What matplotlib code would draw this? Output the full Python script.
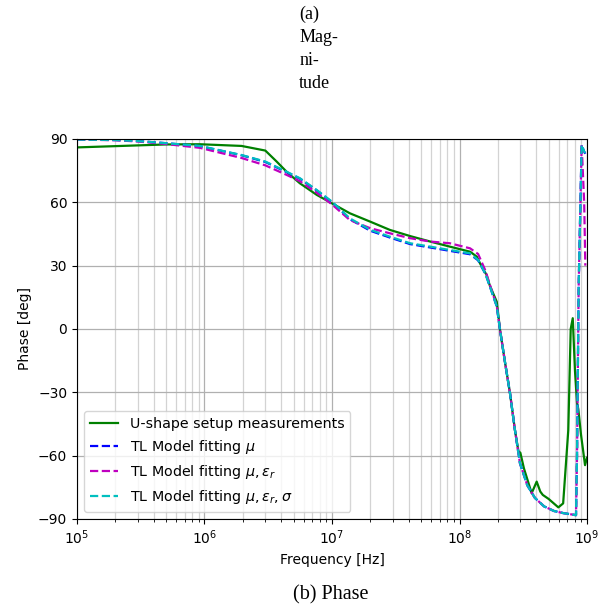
import numpy as np
import matplotlib
matplotlib.use('Agg')
import matplotlib.pyplot as plt

# measured phase (U-shape setup)
f_meas = [1e5, 2e5, 5e5, 9.2e5, 1.95e6, 3e6, 3.68e6, 4.4e6, 5.6e6, 7.6e6, 1e7,
          1.38e7, 2e7, 2.85e7, 4.1e7, 5.9e7, 8.4e7, 1.21e8, 1.37e8, 1.45e8,
          1.63e8, 1.73e8, 1.96e8, 2.08e8, 2.28e8, 2.49e8, 2.72e8, 2.9e8,
          3.0e8, 3.2e8, 3.68e8, 4.03e8, 4.3e8, 4.5e8, 5.0e8, 5.96e8, 6.5e8,
          7.13e8, 7.45e8, 7.73e8, 8.05e8, 8.35e8, 8.55e8, 8.97e8, 9.65e8, 1e9]
ph_meas = [86.0, 86.6, 87.4, 87.5, 86.7, 84.5, 79.3, 74.5, 69.0, 63.5, 59.5,
           54.8, 50.8, 46.9, 44.0, 41.4, 39.0, 36.6, 34.2, 31.0,
           25.6, 20.5, 12.9, -0.5, -16.2, -30.5, -47.8, -58.0,
           -58.6, -66.0, -77.8, -72.3, -77.0, -78.6, -80.5, -84.5, -82.6,
           -48.0, 0.0, 5.1, -20.0, -35.0, -38.0, -50.0, -64.5, -61.0]

# transmission-line model fits
f_mod = [1e5, 2e5, 3e5, 5e5, 9.2e5, 1.95e6, 3e6, 4.4e6, 5.6e6, 7.6e6, 1e7,
         1.38e7, 2e7, 2.85e7, 4.1e7, 5.9e7, 8.4e7, 1.21e8, 1.4e8, 1.6e8,
         1.73e8, 1.96e8, 2.08e8, 2.28e8, 2.49e8, 2.72e8, 2.98e8, 3.4e8,
         3.9e8, 4.6e8, 5.5e8, 6.5e8, 7.5e8, 8.2e8, 8.35e8, 8.6e8, 9.08e8]
ph_mu = [89.7, 89.5, 89.0, 88.0, 86.6, 82.3, 79.1, 74.3, 71.2, 65.6, 60.1,
         52.0, 46.5, 43.3, 40.2, 38.6, 37.0, 35.4, 32.5, 26.0,
         20.2, 10.7, -0.5, -16.2, -30.5, -47.8, -63.6, -74.0,
         -80.0, -84.0, -86.2, -87.2, -87.8, -88.2, -60.0, 20.0, 87.2]
ph_mu_er = [89.7, 89.4, 88.8, 87.6, 85.8, 81.0, 77.5, 73.0, 70.0, 64.5, 59.0,
            51.6, 47.7, 45.3, 43.0, 41.4, 40.6, 38.2, 35.5, 27.5,
            21.0, 10.9, -0.5, -16.2, -30.5, -47.8, -63.6, -74.0,
            -80.0, -84.0, -86.2, -87.2, -87.8, -88.2, -60.0, 20.0, 87.2]
ph_mu_er_sig = [89.7, 89.5, 89.0, 88.0, 86.7, 82.4, 79.3, 74.5, 71.4, 65.8, 60.3,
                52.4, 46.9, 43.7, 40.6, 39.0, 37.4, 35.8, 32.7, 26.0,
                20.2, 10.7, -0.5, -16.2, -30.5, -47.8, -63.6, -74.0,
                -80.0, -84.0, -86.2, -87.2, -87.8, -88.2, -60.0, 20.0, 87.2]
# tails after the resonance peak
f_tail = [9.08e8, 9.5e8, 9.7e8]
tail_mu = [87.2, 84.0, 83.0]
tail_mu_er = [87.2, 60.0, 30.0]
tail_mu_er_sig = [87.2, 84.0, 83.4]

fig = plt.figure(figsize=(6.13, 6.10), dpi=100)
ax = fig.add_axes([0.1256, 0.1492, 0.832, 0.623])

ax.semilogx(f_meas, ph_meas, '-', color='green', lw=1.6,
            label='U-shape setup measurements')
ax.semilogx(f_mod + f_tail[1:], ph_mu + tail_mu[1:], '--', color='blue', lw=1.6,
            label=r'TL Model fitting $\mu$')
ax.semilogx(f_mod + f_tail[1:], ph_mu_er + tail_mu_er[1:], '--', color='m', lw=1.6,
            label=r'TL Model fitting $\mu, \varepsilon_r$')
ax.semilogx(f_mod + f_tail[1:], ph_mu_er_sig + tail_mu_er_sig[1:], '--', color='c', lw=1.6,
            label=r'TL Model fitting $\mu, \varepsilon_r, \sigma$')

ax.set_xlim(1e5, 1e9)
ax.set_ylim(-90, 90)
ax.set_yticks(np.arange(-90, 91, 30))
ax.grid(True, which='major', color='#b0b0b0', lw=0.9)
ax.grid(True, which='minor', color='#d3d3d3', lw=0.9)
ax.tick_params(labelsize=10)
ax.set_xlabel('Frequency [Hz]')
ax.set_ylabel('Phase [deg]')
ax.legend(loc='lower left', fontsize=10.3)

fig.text(0.488, 0.99, '(a)\nMag-\nni-\ntude', ha='left', va='top',
         family='Liberation Serif', fontsize=13, linespacing=1.45)
fig.text(0.54, 0.025, '(b) Phase', ha='center', va='center',
         family='Liberation Serif', fontsize=14.5)

fig.savefig('out.png', dpi=100)
